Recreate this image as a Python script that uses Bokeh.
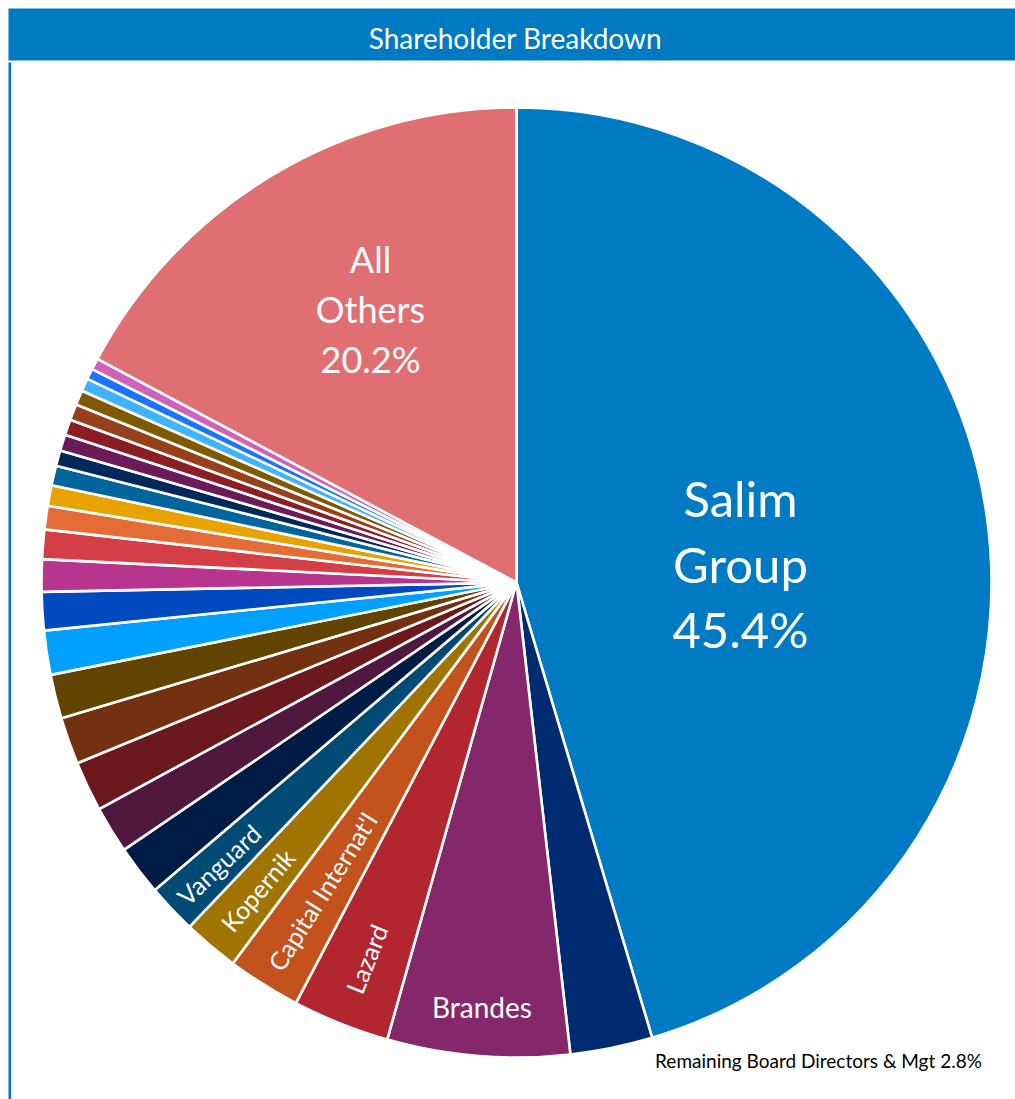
import numpy as np
from bokeh.plotting import figure
from bokeh.models import ColumnDataSource, Range1d
from bokeh.core.properties import value
from bokeh.embed import file_html
from bokeh.resources import INLINE

# ---------------- data ----------------
holders = [
    "Salim Group", "Remaining Board Directors & Mgt", "Brandes", "Lazard",
    "Capital Internat'l", "Kopernik", "Vanguard",
    "Holder 8", "Holder 9", "Holder 10", "Holder 11", "Holder 12", "Holder 13",
    "Holder 14", "Holder 15", "Holder 16", "Holder 17", "Holder 18", "Holder 19",
    "Holder 20", "Holder 21", "Holder 22", "Holder 23", "Holder 24", "Holder 25",
    "Holder 26", "Holder 27", "All Others",
]
shares = [
    45.4, 2.8, 6.2, 3.3, 2.5, 1.9, 1.7,
    1.7, 1.6, 1.7, 1.6, 1.5, 1.5,
    1.3, 1.1, 1.0, 0.8, 0.7, 0.67,
    0.53, 0.55, 0.53, 0.55, 0.5, 0.44,
    0.36, 0.39, 17.2,
]
colors = [
    "#007ac3", "#002b70", "#84276b", "#b1262f", "#c3521c", "#a07400", "#004a73",
    "#001b46", "#50173f", "#6c191e", "#733112", "#604400", "#00a0ff",
    "#0049bf", "#b7348f", "#d43f47", "#e36c37", "#e8a300", "#00659d",
    "#00285b", "#6b1b57", "#8b1d25", "#97401a", "#7f5a00", "#40b3ff",
    "#1a74ff", "#cf61b8", "#e06f73",
]
title = "Shareholder Breakdown"
big_labels = {"Salim Group": ["Salim", "Group", "45.4%"],
              "All Others": ["All", "Others", "20.2%"]}
radial_labels = ["Lazard", "Capital Internat'l", "Kopernik", "Vanguard"]
note_label = "Remaining Board Directors & Mgt 2.8%"

# ---------------- layout ----------------
W, H = 1015, 1099
FONT = value("Lato")


def X(sx):
    return sx


def Y(sy):
    return H - sy


CX, CY, R = 516, 582, 475

p = figure(width=W, height=H, output_backend="svg", toolbar_location=None,
           x_range=Range1d(0, W), y_range=Range1d(0, H), min_border=0)
p.axis.visible = False
p.grid.visible = False
p.outline_line_color = None
p.background_fill_color = "white"
p.border_fill_color = "white"

vals = np.array(shares, dtype=float)
frac = vals / vals.sum()
cum = np.concatenate([[0.0], np.cumsum(frac)])
start = np.pi / 2 - 2 * np.pi * cum[:-1]
end = np.pi / 2 - 2 * np.pi * cum[1:]

src = ColumnDataSource(dict(name=holders, share=shares, color=colors,
                            start=start, end=end))
p.wedge(x=X(CX), y=Y(CY), radius=R, start_angle="start", end_angle="end",
        direction="clock", fill_color="color", line_color="white",
        line_width=2.6, source=src)

# title bar and left rule
p.quad(left=X(8), right=X(1016), top=Y(8), bottom=Y(60),
       fill_color="#007ac3", line_color=None)
p.quad(left=X(8), right=X(10.5), top=Y(62), bottom=0,
       fill_color="#007ac3", line_color=None)
p.text(x=[X(515)], y=[Y(37)], text=[title], text_color="white",
       text_font=FONT, text_font_size="28px", text_align="center",
       text_baseline="middle")

# big labels
p.text(x=[X(740)] * 3, y=[Y(497), Y(563), Y(628)],
       text=big_labels["Salim Group"], text_color="white", text_font=FONT,
       text_font_size="49px", text_align="center", text_baseline="middle")
p.text(x=[X(370)] * 3, y=[Y(258), Y(308), Y(358)],
       text=big_labels["All Others"], text_color="white", text_font=FONT,
       text_font_size="36px", text_align="center", text_baseline="middle")

# Brandes (horizontal, along its mid angle)
i = holders.index("Brandes")
th = np.pi * (cum[i] + cum[i + 1])
p.text(x=[X(CX + 426 * np.sin(th))], y=[Y(CY - 426 * np.cos(th))],
       text=["Brandes"], text_color="white", text_font=FONT,
       text_font_size="28px", text_align="center", text_baseline="middle")

# radial labels
rad = {"Lazard": 405, "Capital Internat'l": 365, "Kopernik": 402, "Vanguard": 410}
lx, ly, la = [], [], []
for name in radial_labels:
    i = holders.index(name)
    th = np.pi * (cum[i] + cum[i + 1])
    r = rad[name]
    lx.append(X(CX + r * np.sin(th)))
    ly.append(Y(CY - r * np.cos(th)))
    la.append(np.arctan2(-np.cos(th), -np.sin(th)))
p.text(x=lx, y=ly, text=radial_labels, angle=la, text_color="white",
       text_font=FONT, text_font_size="25px", text_align="center",
       text_baseline="middle")

p.text(x=[X(818)], y=[Y(1060)], text=[note_label], text_color="black",
       text_font=FONT, text_font_size="19px", text_align="center",
       text_baseline="middle")

open("out.html", "w").write(file_html(p, INLINE))
